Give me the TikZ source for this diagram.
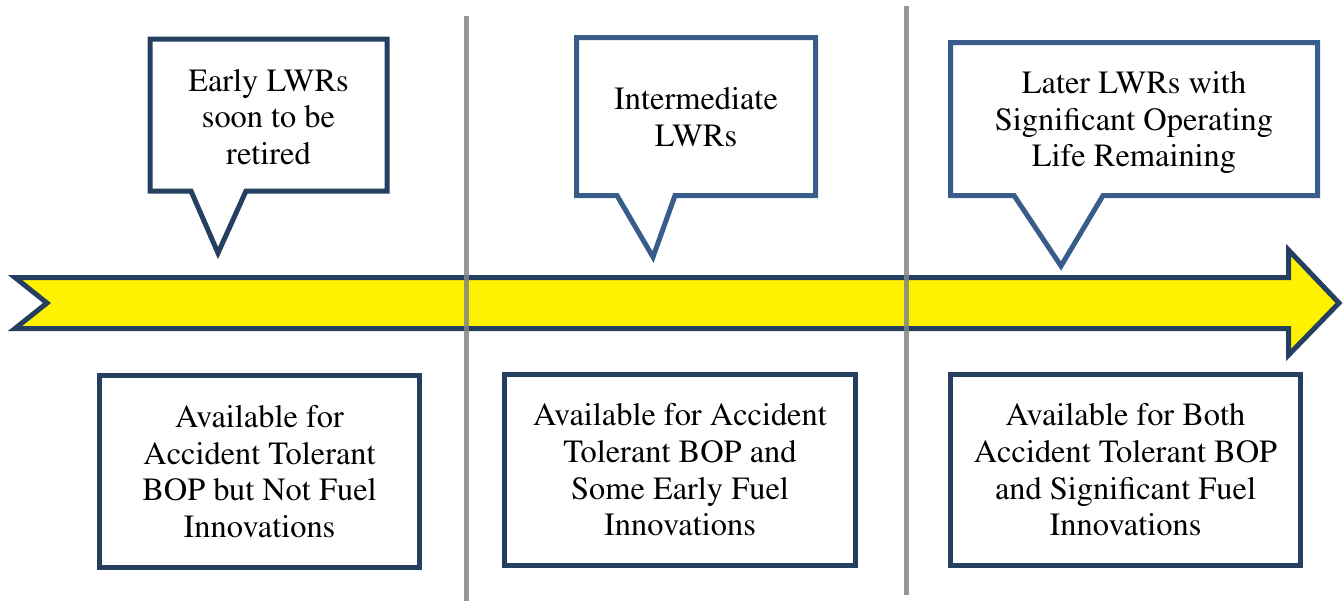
\documentclass[tikz,border=0pt]{standalone}
\usepackage[T1]{fontenc}
\usepackage{mathptmx}
\definecolor{navy}{HTML}{243F60}
\definecolor{steel}{HTML}{385D8A}
\definecolor{sepgray}{HTML}{858585}

\begin{document}
\begin{tikzpicture}[x=0.5pt,y=-0.5pt,
  txt/.style={align=center,font=\fontsize{16.2}{18.3}\selectfont},
  box/.style={txt,draw=navy,line width=2.5pt,inner sep=0pt},
  bubble/.style={line width=2.5pt,fill=white}]
  \useasboundingbox (0,0) rectangle (1343,601);

  % timeline arrow
  \draw[navy,line width=2.5pt,fill=yellow]
    (15,277.5) -- (1288.5,277.5) -- (1288.5,250) -- (1339,303) -- (1288.5,355)
    -- (1288.5,328.5) -- (15,328.5) -- (47,303) -- cycle;

  % callouts above the arrow
  \draw[bubble,draw=navy] (150,39) -- (387,39) -- (387,191) -- (246,191)
    -- (218,253) -- (191,191) -- (150,191) -- cycle;
  \draw[bubble,draw=steel] (576.5,37.5) -- (815.5,37.5) -- (815.5,195.5) -- (675,195.5)
    -- (653,257) -- (617,195.5) -- (576.5,195.5) -- cycle;
  \draw[bubble,draw=steel] (950.5,42.5) -- (1317.5,42.5) -- (1317.5,195.5) -- (1103,195.5)
    -- (1061,266) -- (1014,195.5) -- (950.5,195.5) -- cycle;

  \node[txt] (early) at (268.5,117) {Early LWRs\\soon to be\\retired};
  \node[txt] (inter) at (696,117) {Intermediate\\LWRs};
  \node[txt] (later) at (1134,122.6) {Later LWRs with\\Significant Operating\\Life Remaining};

  % boxes below the arrow
  \node[box,minimum width=160pt,minimum height=96pt] (bopOnly) at (259.5,471.5)
    {Available for\\Accident Tolerant\\BOP but Not Fuel\\Innovations};
  \node[box,minimum width=175.5pt,minimum height=95.5pt] (bopEarly) at (680,470)
    {Available for Accident\\Tolerant BOP and\\Some Early Fuel\\Innovations};
  \node[box,minimum width=175pt,minimum height=95.5pt] (bopBoth) at (1125.5,470)
    {Available for Both\\Accident Tolerant BOP\\and Significant Fuel\\Innovations};

  % separators
  \draw[sepgray,line width=2.5pt,opacity=.85] (466,16) -- (466,601);
  \draw[sepgray,line width=2.5pt,opacity=.85] (906,6) -- (906,595);
\end{tikzpicture}
\end{document}
